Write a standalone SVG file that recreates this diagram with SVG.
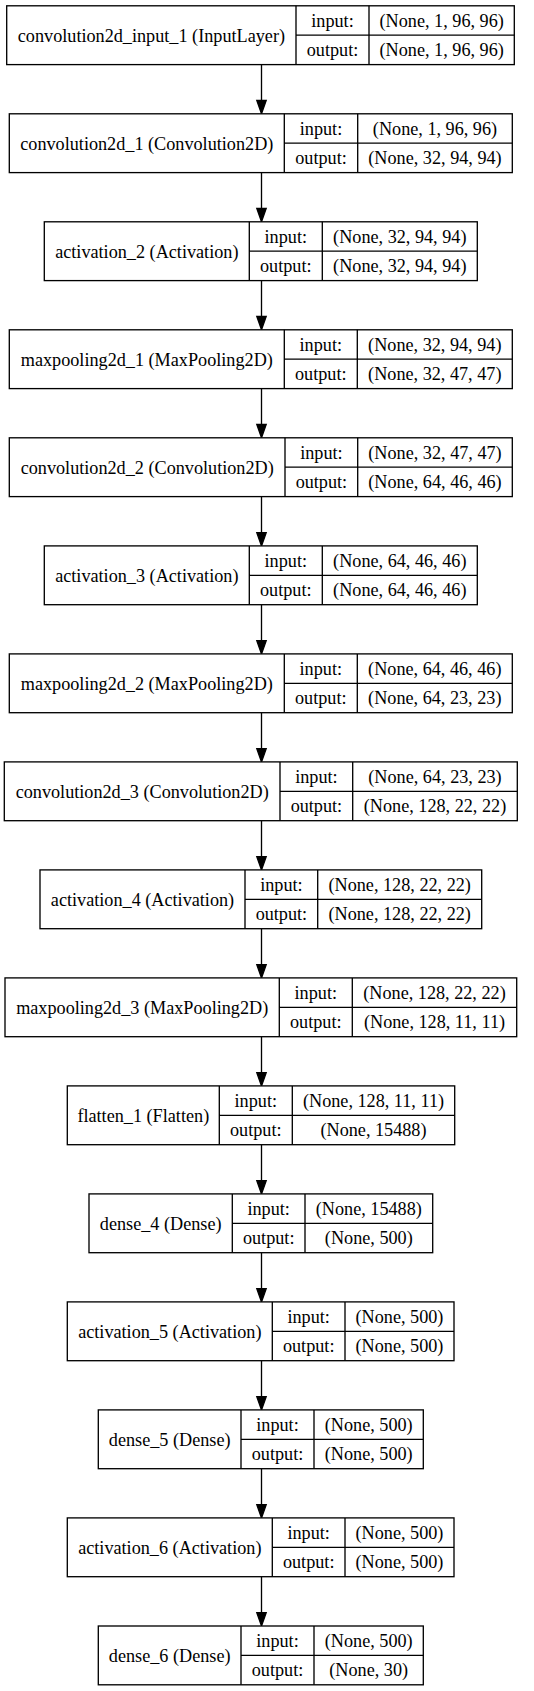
<svg xmlns="http://www.w3.org/2000/svg" width="534" height="1691" viewBox="0 0 534 1691">
<style>
.b{fill:#fff;stroke:#000;stroke-width:1.33}
.l{stroke:#000;stroke-width:1.33;fill:none}
.t{font-family:"Liberation Serif","Times New Roman",serif;font-size:18.2px;fill:#000;text-anchor:middle}
.e{stroke:#000;stroke-width:1.33;fill:none}
.h{fill:#000;stroke:#000;stroke-width:1.33}
</style>
<rect width="534" height="1691" fill="#fff"/>
<g id="connectors">
<path class="e" d="M261.5 64.6V100.5"/><polygon class="h" points="256.8,100.5 266.2,100.5 261.5,113.8"/>
<path class="e" d="M261.5 172.6V208.5"/><polygon class="h" points="256.8,208.5 266.2,208.5 261.5,221.8"/>
<path class="e" d="M261.5 280.6V316.5"/><polygon class="h" points="256.8,316.5 266.2,316.5 261.5,329.8"/>
<path class="e" d="M261.5 388.6V424.5"/><polygon class="h" points="256.8,424.5 266.2,424.5 261.5,437.8"/>
<path class="e" d="M261.5 496.6V532.6"/><polygon class="h" points="256.8,532.6 266.2,532.6 261.5,545.9"/>
<path class="e" d="M261.5 604.7V640.6"/><polygon class="h" points="256.8,640.6 266.2,640.6 261.5,653.9"/>
<path class="e" d="M261.5 712.7V748.6"/><polygon class="h" points="256.8,748.6 266.2,748.6 261.5,761.9"/>
<path class="e" d="M261.5 820.7V856.6"/><polygon class="h" points="256.8,856.6 266.2,856.6 261.5,869.9"/>
<path class="e" d="M261.5 928.7V964.6"/><polygon class="h" points="256.8,964.6 266.2,964.6 261.5,977.9"/>
<path class="e" d="M261.5 1036.7V1072.6"/><polygon class="h" points="256.8,1072.6 266.2,1072.6 261.5,1085.9"/>
<path class="e" d="M261.5 1144.7V1180.6"/><polygon class="h" points="256.8,1180.6 266.2,1180.6 261.5,1193.9"/>
<path class="e" d="M261.5 1252.7V1288.6"/><polygon class="h" points="256.8,1288.6 266.2,1288.6 261.5,1301.9"/>
<path class="e" d="M261.5 1360.7V1396.6"/><polygon class="h" points="256.8,1396.6 266.2,1396.6 261.5,1409.9"/>
<path class="e" d="M261.5 1468.7V1504.6"/><polygon class="h" points="256.8,1504.6 266.2,1504.6 261.5,1517.9"/>
<path class="e" d="M261.5 1576.7V1612.7"/><polygon class="h" points="256.8,1612.7 266.2,1612.7 261.5,1626"/>
</g>
<g id="n1">
<rect class="b" x="6.7" y="5.8" width="507.6" height="58.8"/>
<path class="l" d="M296 5.8V64.6M369 5.8V64.6M296 35.2H514.3"/>
<text class="t" x="151.4" y="41.7">convolution2d_input_1 (InputLayer)</text>
<text class="t" x="332.5" y="26.8">input:</text>
<text class="t" x="441.7" y="26.8">(None, 1, 96, 96)</text>
<text class="t" x="332.5" y="56.2">output:</text>
<text class="t" x="441.7" y="56.2">(None, 1, 96, 96)</text>
</g>
<g id="n2">
<rect class="b" x="9.3" y="113.8" width="503" height="58.8"/>
<path class="l" d="M284.3 113.8V172.6M357.7 113.8V172.6M284.3 143.2H512.3"/>
<text class="t" x="146.8" y="149.7">convolution2d_1 (Convolution2D)</text>
<text class="t" x="321" y="134.8">input:</text>
<text class="t" x="435" y="134.8">(None, 1, 96, 96)</text>
<text class="t" x="321" y="164.2">output:</text>
<text class="t" x="435" y="164.2">(None, 32, 94, 94)</text>
</g>
<g id="n3">
<rect class="b" x="44.3" y="221.8" width="433" height="58.8"/>
<path class="l" d="M249.3 221.8V280.6M322.3 221.8V280.6M249.3 251.2H477.3"/>
<text class="t" x="146.8" y="257.7">activation_2 (Activation)</text>
<text class="t" x="285.8" y="242.8">input:</text>
<text class="t" x="399.8" y="242.8">(None, 32, 94, 94)</text>
<text class="t" x="285.8" y="272.2">output:</text>
<text class="t" x="399.8" y="272.2">(None, 32, 94, 94)</text>
</g>
<g id="n4">
<rect class="b" x="9.3" y="329.8" width="503" height="58.8"/>
<path class="l" d="M284.3 329.8V388.6M357.3 329.8V388.6M284.3 359.2H512.3"/>
<text class="t" x="146.8" y="365.7">maxpooling2d_1 (MaxPooling2D)</text>
<text class="t" x="320.8" y="350.8">input:</text>
<text class="t" x="434.8" y="350.8">(None, 32, 94, 94)</text>
<text class="t" x="320.8" y="380.2">output:</text>
<text class="t" x="434.8" y="380.2">(None, 32, 47, 47)</text>
</g>
<g id="n5">
<rect class="b" x="9.3" y="437.8" width="503" height="58.8"/>
<path class="l" d="M285 437.8V496.6M357.7 437.8V496.6M285 467.2H512.3"/>
<text class="t" x="147.2" y="473.7">convolution2d_2 (Convolution2D)</text>
<text class="t" x="321.4" y="458.8">input:</text>
<text class="t" x="435" y="458.8">(None, 32, 47, 47)</text>
<text class="t" x="321.4" y="488.2">output:</text>
<text class="t" x="435" y="488.2">(None, 64, 46, 46)</text>
</g>
<g id="n6">
<rect class="b" x="44.3" y="545.9" width="433" height="58.8"/>
<path class="l" d="M249.3 545.9V604.7M322.3 545.9V604.7M249.3 575.3H477.3"/>
<text class="t" x="146.8" y="581.8">activation_3 (Activation)</text>
<text class="t" x="285.8" y="566.9">input:</text>
<text class="t" x="399.8" y="566.9">(None, 64, 46, 46)</text>
<text class="t" x="285.8" y="596.3">output:</text>
<text class="t" x="399.8" y="596.3">(None, 64, 46, 46)</text>
</g>
<g id="n7">
<rect class="b" x="9.3" y="653.9" width="503" height="58.8"/>
<path class="l" d="M284.3 653.9V712.7M357.3 653.9V712.7M284.3 683.3H512.3"/>
<text class="t" x="146.8" y="689.8">maxpooling2d_2 (MaxPooling2D)</text>
<text class="t" x="320.8" y="674.9">input:</text>
<text class="t" x="434.8" y="674.9">(None, 64, 46, 46)</text>
<text class="t" x="320.8" y="704.3">output:</text>
<text class="t" x="434.8" y="704.3">(None, 64, 23, 23)</text>
</g>
<g id="n8">
<rect class="b" x="4.3" y="761.9" width="513" height="58.8"/>
<path class="l" d="M280 761.9V820.7M352.7 761.9V820.7M280 791.3H517.3"/>
<text class="t" x="142.2" y="797.8">convolution2d_3 (Convolution2D)</text>
<text class="t" x="316.4" y="782.9">input:</text>
<text class="t" x="435" y="782.9">(None, 64, 23, 23)</text>
<text class="t" x="316.4" y="812.3">output:</text>
<text class="t" x="435" y="812.3">(None, 128, 22, 22)</text>
</g>
<g id="n9">
<rect class="b" x="40" y="869.9" width="441.7" height="58.8"/>
<path class="l" d="M245 869.9V928.7M317.7 869.9V928.7M245 899.3H481.7"/>
<text class="t" x="142.5" y="905.8">activation_4 (Activation)</text>
<text class="t" x="281.4" y="890.9">input:</text>
<text class="t" x="399.7" y="890.9">(None, 128, 22, 22)</text>
<text class="t" x="281.4" y="920.3">output:</text>
<text class="t" x="399.7" y="920.3">(None, 128, 22, 22)</text>
</g>
<g id="n10">
<rect class="b" x="5" y="977.9" width="511.7" height="58.8"/>
<path class="l" d="M279.3 977.9V1036.7M352.3 977.9V1036.7M279.3 1007.3H516.7"/>
<text class="t" x="142.2" y="1013.8">maxpooling2d_3 (MaxPooling2D)</text>
<text class="t" x="315.8" y="998.9">input:</text>
<text class="t" x="434.5" y="998.9">(None, 128, 22, 22)</text>
<text class="t" x="315.8" y="1028.3">output:</text>
<text class="t" x="434.5" y="1028.3">(None, 128, 11, 11)</text>
</g>
<g id="n11">
<rect class="b" x="67.3" y="1085.9" width="387.4" height="58.8"/>
<path class="l" d="M219.3 1085.9V1144.7M292.3 1085.9V1144.7M219.3 1115.3H454.7"/>
<text class="t" x="143.3" y="1121.8">flatten_1 (Flatten)</text>
<text class="t" x="255.8" y="1106.9">input:</text>
<text class="t" x="373.5" y="1106.9">(None, 128, 11, 11)</text>
<text class="t" x="255.8" y="1136.3">output:</text>
<text class="t" x="373.5" y="1136.3">(None, 15488)</text>
</g>
<g id="n12">
<rect class="b" x="89" y="1193.9" width="343.7" height="58.8"/>
<path class="l" d="M232.3 1193.9V1252.7M305 1193.9V1252.7M232.3 1223.3H432.7"/>
<text class="t" x="160.7" y="1229.8">dense_4 (Dense)</text>
<text class="t" x="268.7" y="1214.9">input:</text>
<text class="t" x="368.8" y="1214.9">(None, 15488)</text>
<text class="t" x="268.7" y="1244.3">output:</text>
<text class="t" x="368.8" y="1244.3">(None, 500)</text>
</g>
<g id="n13">
<rect class="b" x="67.3" y="1301.9" width="386.7" height="58.8"/>
<path class="l" d="M272.3 1301.9V1360.7M345 1301.9V1360.7M272.3 1331.3H454"/>
<text class="t" x="169.8" y="1337.8">activation_5 (Activation)</text>
<text class="t" x="308.7" y="1322.9">input:</text>
<text class="t" x="399.5" y="1322.9">(None, 500)</text>
<text class="t" x="308.7" y="1352.3">output:</text>
<text class="t" x="399.5" y="1352.3">(None, 500)</text>
</g>
<g id="n14">
<rect class="b" x="98.3" y="1409.9" width="325" height="58.8"/>
<path class="l" d="M241 1409.9V1468.7M314 1409.9V1468.7M241 1439.3H423.3"/>
<text class="t" x="169.7" y="1445.8">dense_5 (Dense)</text>
<text class="t" x="277.5" y="1430.9">input:</text>
<text class="t" x="368.7" y="1430.9">(None, 500)</text>
<text class="t" x="277.5" y="1460.3">output:</text>
<text class="t" x="368.7" y="1460.3">(None, 500)</text>
</g>
<g id="n15">
<rect class="b" x="67.3" y="1517.9" width="386.7" height="58.8"/>
<path class="l" d="M272.3 1517.9V1576.7M345 1517.9V1576.7M272.3 1547.3H454"/>
<text class="t" x="169.8" y="1553.8">activation_6 (Activation)</text>
<text class="t" x="308.7" y="1538.9">input:</text>
<text class="t" x="399.5" y="1538.9">(None, 500)</text>
<text class="t" x="308.7" y="1568.3">output:</text>
<text class="t" x="399.5" y="1568.3">(None, 500)</text>
</g>
<g id="n16">
<rect class="b" x="98.3" y="1626" width="325" height="58.8"/>
<path class="l" d="M241 1626V1684.8M314 1626V1684.8M241 1655.4H423.3"/>
<text class="t" x="169.7" y="1661.9">dense_6 (Dense)</text>
<text class="t" x="277.5" y="1647">input:</text>
<text class="t" x="368.7" y="1647">(None, 500)</text>
<text class="t" x="277.5" y="1676.4">output:</text>
<text class="t" x="368.7" y="1676.4">(None, 30)</text>
</g>
</svg>
